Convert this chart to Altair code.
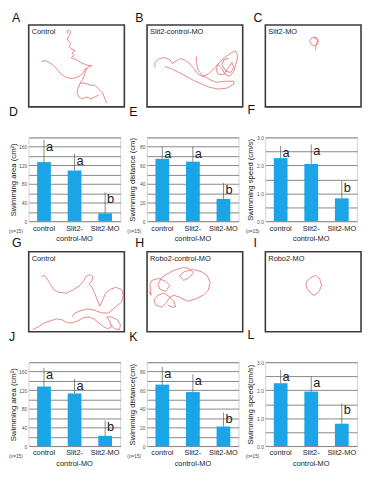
import altair as alt
import pandas as pd

FONT = "Liberation Sans"
RED = "#e5676d"
BLUE = "#1ba4e6"

# ---------------- data ----------------
groups = ["control", "Slit2-control-MO", "Slit2-MO"]
sig_letters = ["a", "a", "b"]

# Slit2 experiment (D, E, F)
area_1_mean = [127, 109, 17]
area_1_err = [175, 145, 62]
dist_1_mean = [67, 64, 24]
dist_1_err = [80, 80, 41]
speed_1_mean = [2.26, 2.05, 0.82]
speed_1_err = [2.7, 2.75, 1.45]

# Robo2 experiment (J, K, L)
area_2_mean = [128, 113, 22]
area_2_err = [168, 144, 55]
dist_2_mean = [66, 58, 21]
dist_2_err = [85, 77, 36]
speed_2_mean = [2.25, 1.95, 0.8]
speed_2_err = [2.73, 2.49, 1.53]

# swimming tracks (box-relative units, y downwards)
track_A = [
    [(13, 37), (17, 36), (21, 38), (25, 41), (29, 45), (32, 49), (36, 52), (41, 54), (46, 54),
     (51, 52), (55, 49), (57, 45), (60, 43), (64, 41), (60, 41), (55, 39), (51, 37), (48, 35),
     (45, 34), (43, 33), (46, 31), (44, 28), (47, 26), (43, 24), (41, 21), (43, 19), (41, 17),
     (39, 14), (41, 11), (43, 7), (41, 5), (39, 6), (40, 9)],
    [(59, 44), (57, 49), (55, 55), (52, 59), (50, 64), (49, 69), (51, 73), (54, 75), (59, 73),
     (63, 75), (67, 73), (71, 71)],
    [(52, 59), (57, 59), (63, 61), (67, 61), (71, 65), (75, 69), (77, 74), (79, 79)],
]
track_B = [
    [(8, 43), (8, 38), (12, 34), (18, 33), (23, 35), (26, 39), (30, 36), (34, 34), (39, 36),
     (44, 40), (48, 45), (52, 50), (56, 52), (62, 50), (66, 46), (70, 42), (75, 36), (80, 32),
     (86, 28), (90, 26), (92, 32), (90, 40), (88, 47), (84, 52), (79, 50), (76, 44), (72, 40),
     (70, 45), (72, 50), (78, 50), (82, 44), (86, 38), (88, 43), (85, 48), (80, 47), (76, 40),
     (78, 35), (83, 34)],
    [(18, 42), (24, 44), (30, 47), (36, 50), (43, 54), (49, 57), (56, 60), (63, 63), (72, 65),
     (81, 64), (88, 60), (88, 57), (80, 57), (70, 58), (63, 55), (56, 51), (52, 46), (50, 38),
     (50, 32)],
]
track_C = [
    [(49, 12), (52, 13), (54, 17), (52, 20), (49, 21), (46, 19), (45, 16), (47, 13), (50, 13),
     (53, 15), (52, 19), (51, 22), (51, 25)],
]
track_G = [
    [(13, 25), (16, 24), (19, 28), (22, 33), (25, 38), (30, 41), (38, 42), (46, 38), (52, 34),
     (56, 29), (58, 25), (62, 23), (65, 25), (64, 30), (61, 32), (64, 36), (67, 42), (70, 50),
     (72, 55), (75, 49), (78, 42), (83, 38), (88, 36), (94, 38), (96, 44), (94, 51), (88, 56),
     (81, 62), (74, 62), (66, 59), (59, 58), (52, 60), (47, 62), (44, 66)],
    [(4, 79), (10, 76), (16, 72), (22, 70), (28, 68), (34, 69), (39, 72), (44, 72), (50, 70),
     (55, 67), (61, 66), (66, 68), (71, 72), (76, 76), (80, 78), (84, 76), (82, 70), (79, 66),
     (84, 66), (90, 69), (93, 74), (92, 79), (87, 78), (83, 74)],
]
track_H = [
    [(2, 40), (4, 44), (3, 33), (5, 29), (12, 27), (19, 30), (23, 34), (19, 40), (13, 38),
     (11, 33), (15, 26), (23, 21), (29, 18), (37, 16), (43, 17), (47, 21), (43, 26), (37, 29),
     (33, 24), (38, 20), (47, 18), (55, 20), (61, 24), (64, 31), (62, 39), (57, 44), (49, 48),
     (41, 50), (33, 46), (27, 44), (23, 46), (20, 51), (15, 56), (9, 54), (7, 49), (11, 44),
     (17, 42), (22, 45), (27, 50), (29, 56), (25, 56), (21, 54)],
]
track_I = [
    [(46, 26), (51, 24), (55, 27), (57, 34), (55, 39), (53, 42), (49, 44), (45, 41), (42, 37),
     (41, 32), (43, 29), (46, 26)],
]


def panel_title(text, dx, offset):
    return alt.TitleParams(text, anchor="start", frame="group", dx=dx, offset=offset,
                           fontSize=12.5, fontWeight="normal", font=FONT, color="#111",
                           baseline="alphabetic")


def track_panel(letter, name, segments, w, h, dx, ypos):
    rows = []
    for s, seg in enumerate(segments):
        for i, (x, y) in enumerate(seg):
            rows.append({"x": x, "y": y, "seg": s, "i": i})
    df = pd.DataFrame(rows)
    line = alt.Chart(df).mark_line(color=RED, strokeWidth=0.8).encode(
        x=alt.X("x:Q", scale=alt.Scale(domain=[0, w], nice=False, zero=False), axis=None),
        y=alt.Y("y:Q", scale=alt.Scale(domain=[0, h], nice=False, zero=False, reverse=True), axis=None),
        detail="seg:N",
        order="i:Q",
    )
    txt = alt.Chart(pd.DataFrame({"t": [name]})).mark_text(
        align="left", baseline="top", fontSize=7.5, font=FONT, color="#222"
    ).encode(x=alt.value(3), y=alt.value(3), text="t:N")
    lab = alt.Chart(pd.DataFrame({"t": [letter]})).mark_text(
        align="left", baseline="alphabetic", fontSize=12.5, font=FONT, color="#111"
    ).encode(x=alt.value(dx), y=alt.value(ypos), text="t:N")
    return alt.layer(line, txt, lab).properties(
        width=w, height=h,
        view=alt.ViewBackground(stroke="#3a3a3a", strokeWidth=1.6),
    )


def bar_panel(letter, ytitle, means, errs, ymax, grid_step, label_step, dx):
    df = pd.DataFrame({"group": groups, "mean": means, "err": errs, "sig": sig_letters})
    grid_vals = []
    v = 0.0
    while v <= ymax + 1e-9:
        grid_vals.append(round(v, 3))
        v += grid_step
    show_top = 1 if ymax == 3 else 0
    xscale = alt.Scale(paddingInner=0.55, paddingOuter=0.275)
    xaxis = alt.Axis(
        title=None, labelAngle=0, tickSize=0, domain=False, labelPadding=3,
        labelFontSize=7.5, labelColor="#222", labelFont=FONT, labelLineHeight=11,
        labelBaseline="top", grid=False,
        labelExpr="datum.label == 'Slit2-control-MO' ? ['Slit2-', 'control-MO'] : datum.label",
    )
    yscale = alt.Scale(domain=[0, ymax], nice=False)
    yaxis = alt.Axis(
        title=ytitle, values=grid_vals, grid=True, gridColor="#7a7a7a", gridWidth=0.9,
        tickSize=0, domain=False, labelFontSize=5, labelColor="#555", labelFont=FONT,
        labelPadding=2,
        labelExpr=(f"(abs(datum.value / {label_step} - round(datum.value / {label_step})) < 0.001"
                   f" && (datum.value < {ymax} - 0.0001 || {show_top} == 1)) ? datum.label : ''"),
        titleFontSize=7.8, titleFontWeight="normal", titleFont=FONT, titleColor="#222",
        titlePadding=1, minExtent=10, maxExtent=10,
    )
    X = alt.X("group:N", sort=groups, scale=xscale, axis=xaxis, title=None)
    base = alt.Chart(df)
    bars = base.mark_bar(color=BLUE).encode(
        x=X,
        y=alt.Y("mean:Q", scale=yscale, axis=yaxis, title=ytitle),
    )
    errbar = base.mark_rule(color="#555", strokeWidth=0.7).encode(
        x=X,
        y=alt.Y("mean:Q", scale=yscale, axis=yaxis, title=ytitle),
        y2="err:Q",
    )
    sig = base.mark_text(align="left", baseline="top", dx=2, dy=1, fontSize=13,
                         font=FONT, color="#222").encode(
        x=X,
        y=alt.Y("err:Q", scale=yscale, axis=yaxis, title=ytitle),
        text="sig:N",
    )
    ntext = alt.Chart(pd.DataFrame({"t": ["(n=15)"]})).mark_text(
        align="left", baseline="middle", fontSize=4.8, font=FONT, color="#444"
    ).encode(x=alt.value(-20), y=alt.value(96), text="t:N")
    return alt.layer(bars, errbar, sig, ntext).properties(
        width=93, height=85,
        title=panel_title(letter, dx, 9),
        view=alt.ViewBackground(stroke="#c8c8c8", strokeWidth=0.8),
    )


panels = [
    track_panel("A", "Control", track_A, 97, 83, -17, -3),
    track_panel("B", "Slit2-control-MO", track_B, 97, 83, -12, -3),
    track_panel("C", "Slit2-MO", track_C, 97, 83, -12, -3),
    bar_panel("D", "Swimming area (cm²)", area_1_mean, area_1_err, 180, 20, 40, -20),
    bar_panel("E", "Swimming distance (cm)", dist_1_mean, dist_1_err, 90, 10, 20, -18),
    bar_panel("F", "Swimming speed (cm/s)", speed_1_mean, speed_1_err, 3, 0.5, 1, -18),
    track_panel("G", "Control", track_G, 97, 81, -17, -5),
    track_panel("H", "Robo2-control-MO", track_H, 97, 81, -12, -5),
    track_panel("I", "Robo2-MO", track_I, 97, 81, -12, -5),
    bar_panel("J", "Swimming area (cm²)", area_2_mean, area_2_err, 180, 20, 40, -20),
    bar_panel("K", "Swimming distance(cm)", dist_2_mean, dist_2_err, 90, 10, 20, -18),
    bar_panel("L", "Swimming speed(cm/s)", speed_2_mean, speed_2_err, 3, 0.5, 1, -18),
]

chart = alt.ConcatChart(
    concat=panels, columns=3, bounds="flush", align="each",
    spacing=alt.RowColnumber(row=31, column=23),
).properties(padding=0, background="white").configure(font=FONT)

chart.save("out.html", embed_options={"renderer": "svg", "actions": False})
